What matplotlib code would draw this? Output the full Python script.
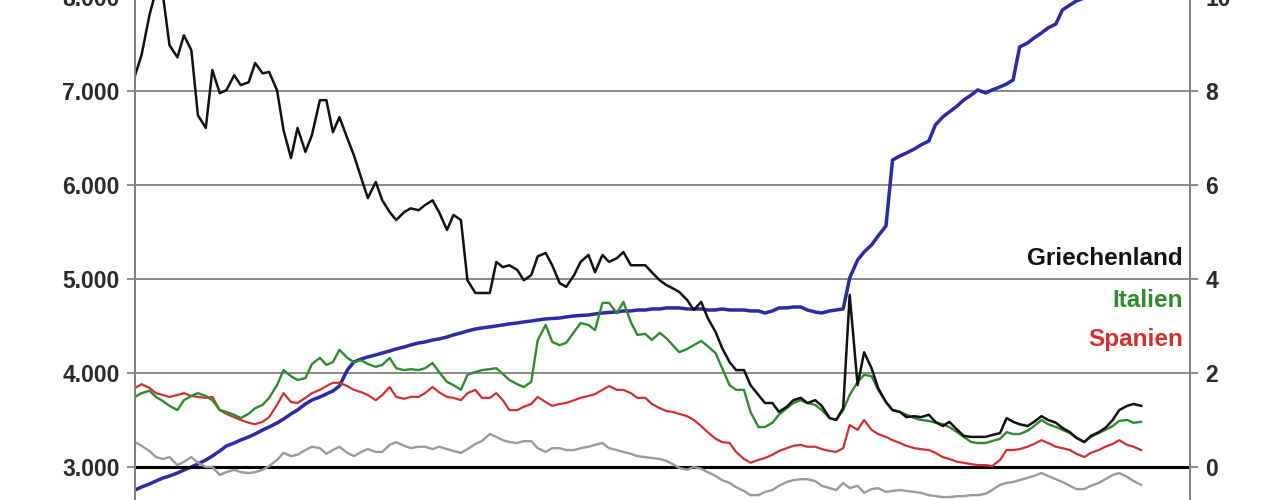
import matplotlib
matplotlib.use('Agg')
import matplotlib.pyplot as plt
import pandas as pd

plt.rcParams['font.family'] = ['Liberation Sans', 'DejaVu Sans']

# semi-monthly observations, Jan 2016 .. Nov 2021
dates = pd.date_range('2016-01-01', periods=143, freq='SMS')

# 10y yields in % (right axis)
griechenland = [
    8.33, 8.76, 9.61, 10.14, 10.03, 8.97, 8.71, 9.18, 8.86, 7.48,
    7.21, 8.44, 7.95, 8.01, 8.33, 8.12, 8.18, 8.59, 8.37, 8.40,
    8.01, 7.16, 6.57, 7.21, 6.70, 7.06, 7.80, 7.80, 7.12, 7.44,
    6.99, 6.63, 6.14, 5.72, 6.06, 5.67, 5.42, 5.25, 5.42, 5.50,
    5.46, 5.57, 5.67, 5.42, 5.04, 5.36, 5.25, 3.97, 3.70, 3.70,
    3.70, 4.36, 4.25, 4.29, 4.19, 3.97, 4.08, 4.48, 4.55, 4.29,
    3.91, 3.83, 4.08, 4.36, 4.51, 4.14, 4.51, 4.36, 4.44, 4.57,
    4.29, 4.29, 4.29, 4.14, 3.97, 3.87, 3.80, 3.72, 3.55, 3.34,
    3.51, 3.17, 2.87, 2.53, 2.23, 2.06, 2.06, 1.74, 1.53, 1.36,
    1.36, 1.17, 1.28, 1.42, 1.47, 1.36, 1.42, 1.30, 1.04, 1.00,
    1.25, 3.66, 1.74, 2.44, 2.10, 1.68, 1.38, 1.21, 1.17, 1.06,
    1.08, 1.06, 1.11, 0.96, 0.87, 0.96, 0.79, 0.66, 0.64, 0.64,
    0.64, 0.68, 0.72, 1.04, 0.96, 0.91, 0.87, 0.96, 1.08, 1.00,
    0.94, 0.83, 0.74, 0.62, 0.53, 0.66, 0.74, 0.83, 1.00, 1.21,
    1.30, 1.34, 1.30,
]
italien = [
    1.49, 1.57, 1.62, 1.49, 1.40, 1.30, 1.21, 1.42, 1.51, 1.57,
    1.51, 1.42, 1.21, 1.17, 1.11, 1.04, 1.13, 1.25, 1.32, 1.47,
    1.74, 2.06, 1.93, 1.85, 1.89, 2.19, 2.32, 2.17, 2.23, 2.49,
    2.32, 2.23, 2.27, 2.19, 2.13, 2.17, 2.32, 2.10, 2.06, 2.08,
    2.06, 2.10, 2.21, 2.02, 1.81, 1.74, 1.64, 1.96, 2.02, 2.06,
    2.08, 2.10, 1.98, 1.85, 1.76, 1.70, 1.81, 2.70, 3.02, 2.66,
    2.59, 2.64, 2.87, 3.06, 3.02, 2.91, 3.49, 3.49, 3.27, 3.51,
    3.08, 2.81, 2.83, 2.70, 2.85, 2.74, 2.59, 2.44, 2.51, 2.59,
    2.68, 2.57, 2.42, 2.10, 1.74, 1.64, 1.64, 1.17, 0.85, 0.85,
    0.94, 1.11, 1.25, 1.36, 1.42, 1.36, 1.32, 1.21, 1.04, 1.00,
    1.21, 1.53, 1.81, 1.96, 1.93, 1.64, 1.38, 1.21, 1.17, 1.11,
    1.04, 1.00, 0.98, 0.94, 0.91, 0.85, 0.74, 0.64, 0.53, 0.51,
    0.51, 0.55, 0.60, 0.74, 0.70, 0.70, 0.77, 0.87, 1.00, 0.91,
    0.85, 0.79, 0.72, 0.62, 0.53, 0.64, 0.72, 0.79, 0.87, 0.98,
    1.00, 0.94, 0.96,
]
spanien = [
    1.68, 1.76, 1.68, 1.57, 1.53, 1.49, 1.53, 1.57, 1.51, 1.49,
    1.47, 1.49, 1.21, 1.13, 1.06, 1.00, 0.94, 0.91, 0.96, 1.06,
    1.32, 1.57, 1.38, 1.36, 1.47, 1.57, 1.64, 1.72, 1.79, 1.79,
    1.72, 1.64, 1.59, 1.53, 1.42, 1.53, 1.70, 1.49, 1.45, 1.49,
    1.49, 1.57, 1.70, 1.59, 1.49, 1.47, 1.42, 1.57, 1.64, 1.47,
    1.47, 1.57, 1.42, 1.21, 1.21, 1.28, 1.34, 1.49, 1.38, 1.30,
    1.34, 1.36, 1.42, 1.47, 1.51, 1.55, 1.64, 1.72, 1.64, 1.64,
    1.57, 1.47, 1.47, 1.34, 1.25, 1.19, 1.17, 1.13, 1.08, 1.00,
    0.87, 0.74, 0.60, 0.53, 0.51, 0.32, 0.17, 0.09, 0.15, 0.19,
    0.26, 0.34, 0.40, 0.45, 0.47, 0.43, 0.43, 0.38, 0.34, 0.32,
    0.40, 0.89, 0.79, 1.00, 0.79, 0.70, 0.64, 0.57, 0.51, 0.45,
    0.40, 0.38, 0.36, 0.30, 0.21, 0.17, 0.11, 0.09, 0.06, 0.04,
    0.04, 0.02, 0.15, 0.36, 0.36, 0.38, 0.43, 0.49, 0.57, 0.51,
    0.43, 0.40, 0.36, 0.28, 0.21, 0.30, 0.36, 0.43, 0.49, 0.57,
    0.47, 0.43, 0.36,
]
deutschland = [
    0.53, 0.45, 0.34, 0.21, 0.17, 0.21, 0.04, 0.11, 0.21, 0.09,
    0.00, 0.00, -0.17, -0.11, -0.06, -0.11, -0.13, -0.11, -0.06, 0.02,
    0.15, 0.30, 0.23, 0.26, 0.36, 0.43, 0.40, 0.28, 0.36, 0.43,
    0.30, 0.23, 0.32, 0.38, 0.32, 0.32, 0.47, 0.53, 0.45, 0.40,
    0.43, 0.43, 0.38, 0.43, 0.38, 0.34, 0.30, 0.38, 0.49, 0.55,
    0.70, 0.64, 0.57, 0.53, 0.51, 0.55, 0.55, 0.40, 0.32, 0.40,
    0.40, 0.36, 0.36, 0.40, 0.43, 0.47, 0.51, 0.40, 0.36, 0.32,
    0.28, 0.23, 0.21, 0.19, 0.17, 0.13, 0.06, -0.02, -0.06, 0.00,
    -0.04, -0.11, -0.19, -0.28, -0.34, -0.43, -0.51, -0.60, -0.60, -0.53,
    -0.49, -0.40, -0.32, -0.28, -0.26, -0.26, -0.30, -0.40, -0.45, -0.49,
    -0.34, -0.45, -0.40, -0.55, -0.47, -0.45, -0.53, -0.51, -0.49, -0.51,
    -0.53, -0.55, -0.60, -0.62, -0.64, -0.64, -0.62, -0.62, -0.60, -0.60,
    -0.57, -0.49, -0.38, -0.34, -0.32, -0.28, -0.23, -0.19, -0.13, -0.19,
    -0.26, -0.32, -0.40, -0.47, -0.47, -0.40, -0.34, -0.26, -0.17, -0.13,
    -0.21, -0.30, -0.38,
]
# balance sheet in bn EUR (left axis)
bilanz = [
    2755, 2787, 2819, 2851, 2883, 2904, 2936, 2968, 3000, 3032,
    3074, 3117, 3170, 3223, 3255, 3287, 3319, 3351, 3393, 3425,
    3468, 3510, 3564, 3606, 3670, 3712, 3744, 3776, 3808, 3861,
    4031, 4116, 4148, 4170, 4191, 4212, 4233, 4255, 4276, 4297,
    4318, 4329, 4350, 4361, 4382, 4404, 4425, 4446, 4467, 4478,
    4489, 4499, 4510, 4521, 4531, 4542, 4552, 4563, 4574, 4579,
    4584, 4595, 4606, 4611, 4616, 4627, 4637, 4643, 4648, 4659,
    4659, 4669, 4669, 4680, 4680, 4691, 4691, 4691, 4680, 4680,
    4680, 4669, 4669, 4680, 4669, 4669, 4669, 4659, 4659, 4637,
    4659, 4691, 4691, 4701, 4701, 4669, 4648, 4637, 4659, 4669,
    4680, 5010, 5201, 5286, 5361, 5456, 5563, 6264, 6307, 6339,
    6381, 6424, 6466, 6636, 6722, 6775, 6839, 6902, 6955, 7009,
    6977, 7009, 7041, 7072, 7115, 7466, 7508, 7562, 7615, 7668,
    7710, 7859, 7912, 7955, 7987, 8008, 8029, 8072, 8093, 8114,
    8136, 8157, 8178,
]

left_ticks = [3000, 4000, 5000, 6000, 7000, 8000]
right_ticks = [0, 2, 4, 6, 8, 10]
labels = ['Griechenland', 'Italien', 'Spanien']
label_colors = ['#111111', '#2e8b2e', '#d23030']
label_pos = [4.44, 3.55, 2.72]

grid_col = '#808080'

fig = plt.figure(figsize=(12.8, 5), dpi=100)
ax1 = fig.add_axes([0.1055, -0.028, 0.8242, 1.091])
ax2 = ax1.twinx()

ax1.plot(dates, bilanz, color='#2b2ba3', lw=2.5)
ax1.set_ylim(2500, 8300)
ax1.set_yticks(left_ticks)
ax1.set_yticklabels([f'{t:,.0f}'.replace(',', '.') for t in left_ticks])
ax1.grid(axis='y', color=grid_col, lw=1.3)
ax1.axhline(3000, color='black', lw=2.2)

ax2.plot(dates, deutschland, color='#9a9a9a', lw=1.7)
ax2.plot(dates, spanien, color='#d23030', lw=1.6)
ax2.plot(dates, italien, color='#2e8b2e', lw=1.7)
ax2.plot(dates, griechenland, color='#111111', lw=1.8)
ax2.set_ylim(-1.0, 10.6)
ax2.set_yticks(right_ticks)

ax1.set_xlim(pd.Timestamp('2016-01-01'), pd.Timestamp('2022-03-16'))
ax1.set_xticks([])

for ax in (ax1, ax2):
    for s in ('top', 'bottom'):
        ax.spines[s].set_visible(False)
    ax.spines['left'].set_color(grid_col)
    ax.spines['right'].set_color(grid_col)
    ax.spines['left'].set_linewidth(1.3)
    ax.spines['right'].set_linewidth(1.3)
    ax.tick_params(axis='y', length=6, width=1.3, color=grid_col,
                   labelsize=16.5, labelcolor='#2a2a2a', pad=5)

for t in ax1.get_yticklabels() + ax2.get_yticklabels():
    t.set_fontweight('bold')

for name, col, yv in zip(labels, label_colors, label_pos):
    ax2.text(0.9934, yv, name, color=col, fontsize=17.5, fontweight='bold',
             ha='right', va='center', transform=ax2.get_yaxis_transform())

fig.savefig('out.png', dpi=100)
